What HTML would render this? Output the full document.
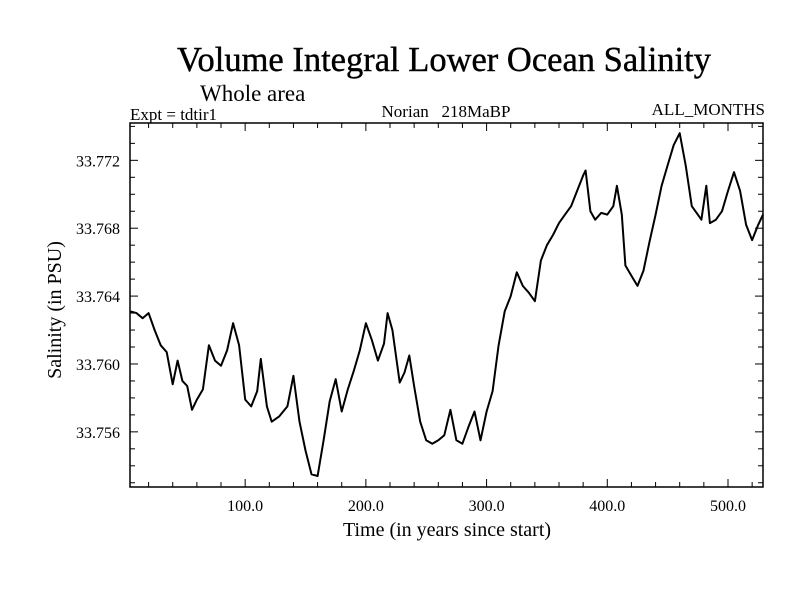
<!DOCTYPE html>
<html><head><meta charset="utf-8"><style>
body{margin:0;background:#fff;}
svg text{font-family:"Liberation Serif",serif;fill:#000;}
</style></head><body>
<svg id="chart" width="800" height="600" viewBox="0 0 800 600">
<text x="444" y="71" font-size="34.5" text-anchor="middle" stroke="#000" stroke-width="0.4">Volume Integral Lower Ocean Salinity</text>
<text x="200" y="101" font-size="23">Whole area</text>
<text x="130" y="120" font-size="17">Expt = tdtir1</text>
<text x="446" y="117" font-size="17" text-anchor="middle" style="white-space:pre">Norian   218MaBP</text>
<text x="765" y="115" font-size="17" text-anchor="end">ALL_MONTHS</text>
<text transform="translate(61,310) rotate(-90)" font-size="20" text-anchor="middle">Salinity (in PSU)</text>
<text x="447" y="536" font-size="20" text-anchor="middle">Time (in years since start)</text>
<g id="axes"></g>
<path id="series" fill="none" stroke="#000" stroke-width="2" stroke-linejoin="round"/>
<rect x="130" y="123" width="633" height="364" fill="none" stroke="#000" stroke-width="1.5"/>
</svg>
<script>
const times=[5,10,15,20,25,30,35,40,44,48,52,56,60,65,70,75,80,85,90,95,100,105,110,113,118,122,128,135,140,145,150,155,160,165,170,175,180,185,190,195,200,205,210,215,218,222,228,232,236,240,245,250,255,260,265,270,275,280,285,290,295,300,305,310,315,320,325,330,335,340,345,350,355,360,365,370,375,380,382,386,390,395,400,405,408,412,415,420,425,430,435,440,445,450,455,460,465,470,475,478,482,485,490,495,500,505,510,515,520,525,529];
const salinity=[33.7631,33.7630,33.7627,33.7630,33.7620,33.7611,33.7607,33.7588,33.7602,33.7590,33.7587,33.7573,33.7579,33.7585,33.7611,33.7602,33.7599,33.7608,33.7624,33.7611,33.7579,33.7575,33.7584,33.7603,33.7575,33.7566,33.7569,33.7575,33.7593,33.7566,33.7549,33.7535,33.7534,33.7555,33.7578,33.7591,33.7572,33.7585,33.7596,33.7608,33.7624,33.7614,33.7602,33.7612,33.7630,33.7620,33.7589,33.7595,33.7605,33.7587,33.7566,33.7555,33.7553,33.7555,33.7558,33.7573,33.7555,33.7553,33.7563,33.7572,33.7555,33.7572,33.7584,33.7611,33.7631,33.7640,33.7654,33.7646,33.7642,33.7637,33.7661,33.7670,33.7676,33.7683,33.7688,33.7693,33.7702,33.7711,33.7714,33.7690,33.7685,33.7689,33.7688,33.7693,33.7705,33.7688,33.7658,33.7652,33.7646,33.7655,33.7672,33.7688,33.7705,33.7717,33.7729,33.7736,33.7717,33.7693,33.7688,33.7685,33.7705,33.7683,33.7685,33.7690,33.7702,33.7713,33.7702,33.7682,33.7673,33.7682,33.7688];
const xTickLabels=["100.0","200.0","300.0","400.0","500.0"];
const yTickLabels=["33.756","33.760","33.764","33.768","33.772"];
const L=130,R=763,T=123,B=487;
const x0=4.6,x1=529,y0=33.75275,y1=33.7742;
const sx=v=>L+(v-x0)/(x1-x0)*(R-L);
const sy=v=>B-(v-y0)/(y1-y0)*(B-T);
const NS="http://www.w3.org/2000/svg";
const ax=document.getElementById('axes');
function line(a,b,c,d,name){const l=document.createElementNS(NS,'line');
l.setAttribute('x1',a);l.setAttribute('y1',b);l.setAttribute('x2',c);l.setAttribute('y2',d);
l.setAttribute('stroke','#000');l.setAttribute('stroke-width','1');


ax.appendChild(l);}
function txt(x,y,s,anchor,name){const t=document.createElementNS(NS,'text');
t.setAttribute('x',x);t.setAttribute('y',y);t.setAttribute('font-size','16');t.setAttribute('text-anchor',anchor);t.textContent=s;


ax.appendChild(t);}
for(let v=20;v<=x1;v+=20){const px=sx(v);const major=v%100===0;const len=major?8:5;
line(px,B,px,B-len,'x-tick');line(px,T,px,T+len,'x-tick');}
xTickLabels.forEach(s=>txt(sx(parseFloat(s)),511,s,'middle','x-tick-label'));
for(let k=0;k<=21;k++){const v=33.753+k*0.001;if(v>y1)break;const py=sy(v);const major=Math.round(v*1000)%4===0;const len=major?8:5;
line(L,py,L+len,py,'y-tick');line(R,py,R-len,py,'y-tick');}
yTickLabels.forEach(s=>txt(120,sy(parseFloat(s))+6,s,'end','y-tick-label'));
let d='';times.forEach((t,i)=>{d+=(i?'L':'M')+sx(t).toFixed(1)+','+sy(salinity[i]).toFixed(1);});
document.getElementById('series').setAttribute('d',d);
</script>
</body></html>
